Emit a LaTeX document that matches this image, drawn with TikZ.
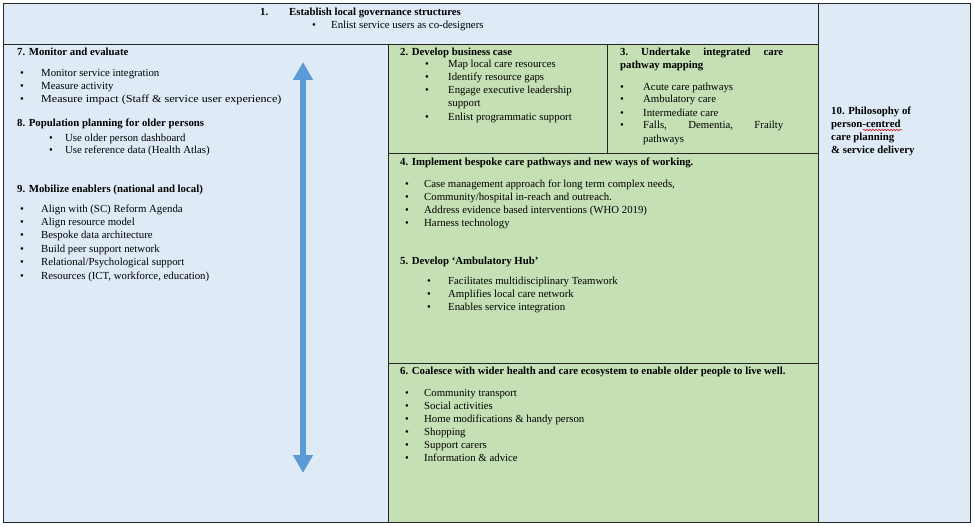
\documentclass[tikz,border=0pt]{standalone}
\usepackage{fontspec}
\setmainfont{Liberation Serif}
\usetikzlibrary{arrows.meta,decorations.pathmorphing}
\definecolor{lblue}{HTML}{DEEBF7}
\definecolor{lgreen}{HTML}{C5E0B4}
\definecolor{arrowblue}{HTML}{5B9BD5}
\definecolor{edgecol}{HTML}{262626}
\newcommand\itm[1]{\textbullet & #1\\}
\newcommand\cont[1]{ & #1\\}
\newcommand\blist[3][13pt]{{\fontsize{10.8}{#1}\selectfont\begin{tabular}[t]{@{}p{#2}@{}l@{}}#3\end{tabular}}}
\begin{document}
\begin{tikzpicture}[x=1pt,y=-1pt,
  bluepanel/.style={draw=edgecol, line width=0.8pt, fill=lblue},
  greenpanel/.style={draw=edgecol, line width=0.8pt, fill=lgreen},
  txt/.style={anchor=base west, inner sep=0pt, font=\fontsize{10.8}{13}\selectfont},
  ttl/.style={txt, font=\fontsize{10.8}{13}\selectfont\bfseries},
  arr/.style={line width=5.5pt, draw=arrowblue, {Triangle[width=19pt,length=18pt]}-{Triangle[width=19pt,length=18pt]}},
  squig/.style={draw=red!85!black, line width=0.6pt, decorate, decoration={snake, amplitude=0.7pt, segment length=3pt}}]
\useasboundingbox (0,0) rectangle (975,527);
\fill[white] (0,0) rectangle (975,527);
% panels
\draw[bluepanel] (3,3) rectangle (818,44);
\draw[bluepanel] (818,3) rectangle (970,522);
\draw[bluepanel] (3,44) rectangle (388,522);
\draw[greenpanel] (388,44) rectangle (607,153);
\draw[greenpanel] (607,44) rectangle (818,153);
\draw[greenpanel] (388,153) rectangle (818,363);
\draw[greenpanel] (388,363) rectangle (818,522);
% header
\node[ttl] (h1n) at (260,16) {1.};
\node[ttl] (h1) at (289,16) {Establish local governance structures};
\node[txt] (h1b) at (312,29) {\textbullet};
\node[txt] (h1t) at (331,29) {Enlist service users as co-designers};
% left panel
\node[ttl] (t7) at (17,56) {7. Monitor and evaluate};
\node[txt] (l7) at (20,77) {\blist{21pt}{\itm{Monitor service integration}\itm{Measure activity}\itm{\scalebox{1.12}[1]{Measure impact (Staff \& service user experience)}}}};
\node[ttl] (t8) at (17,126) {8. Population planning for older persons};
\node[txt] (l8) at (49,141) {\blist{16pt}{\itm{Use older person dashboard}\itm{Use reference data (Health Atlas)}}};
\node[ttl] (t9) at (17,192) {9. Mobilize enablers (national and local)};
\node[txt] (l9) at (20,212) {\blist[13.4pt]{21pt}{\itm{Align with (SC) Reform Agenda}\itm{Align resource model}\itm{Bespoke data architecture}\itm{Build peer support network}\itm{Relational/Psychological support}\itm{Resources (ICT, workforce, education)}}};
% box 2
\node[ttl] (t2) at (400,56) {2. Develop business case};
\node[txt] (l2) at (425,68) {\blist{23pt}{\itm{Map local care resources}\itm{Identify resource gaps}\itm{Engage executive leadership}\cont{support}\itm{Enlist programmatic support}}};
% box 3
\node[ttl] (t3a) at (620,56) {\makebox[163pt][s]{3.\ Undertake integrated care}};
\node[ttl] (t3b) at (620,69) {pathway mapping};
\node[txt] (l3) at (620,90) {\blist{23pt}{\itm{Acute care pathways}\itm{Ambulatory care}\itm{Intermediate care}\itm{\makebox[140pt][s]{Falls, Dementia, Frailty}}\cont{pathways}}};
% box 4
\node[ttl] (t4) at (400,165) {4. Implement bespoke care pathways and new ways of working.};
\node[txt] (l4) at (405,187) {\blist{19pt}{\itm{Case management approach for long term complex needs,}\itm{Community/hospital in-reach and outreach.}\itm{Address evidence based interventions (WHO 2019)}\itm{Harness technology}}};
% box 5
\node[ttl] (t5) at (400,264) {5. Develop ‘Ambulatory Hub’};
\node[txt] (l5) at (427,284) {\blist{21pt}{\itm{Facilitates multidisciplinary Teamwork}\itm{Amplifies local care network}\itm{Enables service integration}}};
% box 6
\node[ttl] (t6) at (400,374) {6. Coalesce with wider health and care ecosystem to enable older people to live well.};
\node[txt] (l6) at (405,396) {\blist{19pt}{\itm{Community transport}\itm{Social activities}\itm{Home modifications \& handy person}\itm{Shopping}\itm{Support carers}\itm{Information \& advice}}};
% right panel
\node[ttl, align=left] (t10) at (831,153) {10. Philosophy of\\person-centred\\care planning\\\& service delivery};
\coordinate (sqa) at (863,130);
\coordinate (sqb) at (902,130);
\draw[squig] (sqa) -- (sqb);
% double arrow
\coordinate (atop) at (303,62);
\coordinate (abot) at (303,473);
\draw[arr] (atop) -- (abot);
\end{tikzpicture}
\end{document}
